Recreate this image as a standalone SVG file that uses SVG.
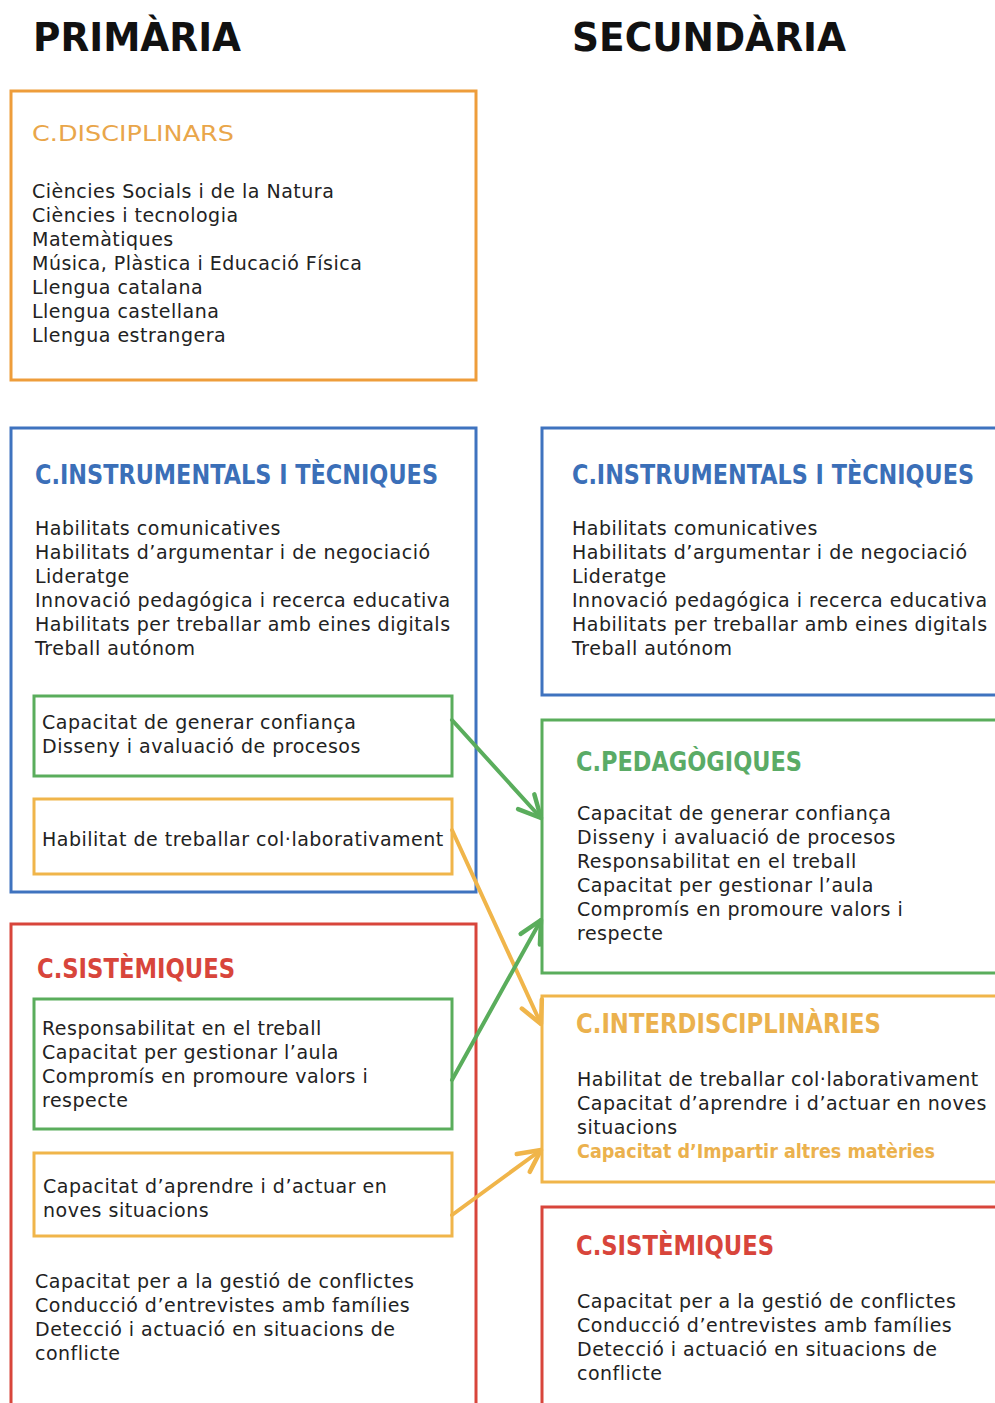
<svg xmlns="http://www.w3.org/2000/svg" width="995" height="1403" viewBox="0 0 995 1403">
<defs>
<style>
.hd{font-family:"DejaVu Sans","Liberation Sans",sans-serif;font-weight:bold;font-size:39px;fill:#111}
.t{font-family:"DejaVu Sans","Liberation Sans",sans-serif;font-weight:bold;font-size:26px}
.b{font-family:"DejaVu Sans","Verdana",sans-serif;font-size:19px;letter-spacing:0.5px;fill:#222}
.box{fill:none;stroke-width:3}
.blue{stroke:#3f73bf}
.green{stroke:#5aad5c}
.orange{stroke:#f0b54a}
.dorange{stroke:#ee9d3b}
.red{stroke:#d8453b}
.conn{fill:none;stroke-width:4;stroke-linecap:round}
</style>
<marker id="ag" viewBox="0 0 28 28" markerWidth="28" markerHeight="28" refX="25" refY="14" orient="auto" markerUnits="userSpaceOnUse"><path d="M3,3 L25,14 L3,25" fill="none" stroke="#5aad5c" stroke-width="4.5" stroke-linecap="round" stroke-linejoin="round"/></marker>
<marker id="ao" viewBox="0 0 28 28" markerWidth="28" markerHeight="28" refX="25" refY="14" orient="auto" markerUnits="userSpaceOnUse"><path d="M3,3 L25,14 L3,25" fill="none" stroke="#f0b54a" stroke-width="4.5" stroke-linecap="round" stroke-linejoin="round"/></marker>
</defs>
<rect width="995" height="1403" fill="#fff"/>

<text class="hd" x="33" y="51" textLength="208" lengthAdjust="spacingAndGlyphs">PRIMÀRIA</text>
<text class="hd" x="572" y="51" textLength="274" lengthAdjust="spacingAndGlyphs">SECUNDÀRIA</text>

<g id="p-disciplinars">
<rect class="box dorange" x="11" y="91" width="465" height="289"/>
<text x="32" y="141" font-family="DejaVu Sans,Verdana,sans-serif" font-size="22" fill="#e9a64a" textLength="202" lengthAdjust="spacingAndGlyphs">C.DISCIPLINARS</text>
<text class="b" x="32" y="198">Ciències Socials i de la Natura</text>
<text class="b" x="32" y="222">Ciències i tecnologia</text>
<text class="b" x="32" y="246">Matemàtiques</text>
<text class="b" x="32" y="270">Música, Plàstica i Educació Física</text>
<text class="b" x="32" y="294">Llengua catalana</text>
<text class="b" x="32" y="318">Llengua castellana</text>
<text class="b" x="32" y="342">Llengua estrangera</text>
</g>

<g id="p-instrumentals">
<rect class="box blue" x="11" y="428" width="465" height="464"/>
<text class="t" x="35" y="484" fill="#3b6fb8" textLength="403" lengthAdjust="spacingAndGlyphs">C.INSTRUMENTALS I TÈCNIQUES</text>
<text class="b" x="35" y="535">Habilitats comunicatives</text>
<text class="b" x="35" y="559">Habilitats d’argumentar i de negociació</text>
<text class="b" x="35" y="583">Lideratge</text>
<text class="b" x="35" y="607">Innovació pedagógica i recerca educativa</text>
<text class="b" x="35" y="631">Habilitats per treballar amb eines digitals</text>
<text class="b" x="35" y="655">Treball autónom</text>
</g>
<g id="p-instr-green">
<rect class="box green" x="34" y="696" width="418" height="80"/>
<text class="b" x="42" y="729">Capacitat de generar confiança</text>
<text class="b" x="42" y="753">Disseny i avaluació de procesos</text>
</g>
<g id="p-instr-orange">
<rect class="box orange" x="34" y="799" width="418" height="75"/>
<text class="b" x="42" y="846">Habilitat de treballar col·laborativament</text>
</g>

<g id="p-sistemiques">
<rect class="box red" x="11" y="924" width="465" height="500"/>
<text class="t" x="37" y="978" fill="#d8453b" textLength="198" lengthAdjust="spacingAndGlyphs">C.SISTÈMIQUES</text>
<text class="b" x="35" y="1288">Capacitat per a la gestió de conflictes</text>
<text class="b" x="35" y="1312">Conducció d’entrevistes amb famílies</text>
<text class="b" x="35" y="1336">Detecció i actuació en situacions de</text>
<text class="b" x="35" y="1360">conflicte</text>
</g>
<g id="p-sist-green">
<rect class="box green" x="34" y="999" width="418" height="130"/>
<text class="b" x="42" y="1035">Responsabilitat en el treball</text>
<text class="b" x="42" y="1059">Capacitat per gestionar l’aula</text>
<text class="b" x="42" y="1083">Compromís en promoure valors i</text>
<text class="b" x="42" y="1107">respecte</text>
</g>
<g id="p-sist-orange">
<rect class="box orange" x="34" y="1153" width="418" height="83"/>
<text class="b" x="43" y="1193">Capacitat d’aprendre i d’actuar en</text>
<text class="b" x="43" y="1217">noves situacions</text>
</g>

<g id="s-instrumentals">
<rect class="box blue" x="542" y="428" width="470" height="267"/>
<text class="t" x="572" y="484" fill="#3b6fb8" textLength="402" lengthAdjust="spacingAndGlyphs">C.INSTRUMENTALS I TÈCNIQUES</text>
<text class="b" x="572" y="535">Habilitats comunicatives</text>
<text class="b" x="572" y="559">Habilitats d’argumentar i de negociació</text>
<text class="b" x="572" y="583">Lideratge</text>
<text class="b" x="572" y="607">Innovació pedagógica i recerca educativa</text>
<text class="b" x="572" y="631">Habilitats per treballar amb eines digitals</text>
<text class="b" x="572" y="655">Treball autónom</text>
</g>

<g id="s-pedagogiques">
<rect class="box green" x="542" y="720" width="470" height="253"/>
<text class="t" x="576" y="771" fill="#5aab66" textLength="226" lengthAdjust="spacingAndGlyphs">C.PEDAGÒGIQUES</text>
<text class="b" x="577" y="820">Capacitat de generar confiança</text>
<text class="b" x="577" y="844">Disseny i avaluació de procesos</text>
<text class="b" x="577" y="868">Responsabilitat en el treball</text>
<text class="b" x="577" y="892">Capacitat per gestionar l’aula</text>
<text class="b" x="577" y="916">Compromís en promoure valors i</text>
<text class="b" x="577" y="940">respecte</text>
</g>

<g id="s-interdisciplinaries">
<rect class="box orange" x="542" y="996" width="470" height="186"/>
<text class="t" x="576" y="1033" fill="#ebb14d" textLength="305" lengthAdjust="spacingAndGlyphs">C.INTERDISCIPLINÀRIES</text>
<text class="b" x="577" y="1086">Habilitat de treballar col·laborativament</text>
<text class="b" x="577" y="1110">Capacitat d’aprendre i d’actuar en noves</text>
<text class="b" x="577" y="1134">situacions</text>
<text class="t" x="577" y="1158" fill="#ebb14d" style="font-size:19px" textLength="358" lengthAdjust="spacingAndGlyphs">Capacitat d’Impartir altres matèries</text>
</g>

<g id="s-sistemiques">
<rect class="box red" x="542" y="1207" width="470" height="220"/>
<text class="t" x="576" y="1255" fill="#d8453b" textLength="198" lengthAdjust="spacingAndGlyphs">C.SISTÈMIQUES</text>
<text class="b" x="577" y="1308">Capacitat per a la gestió de conflictes</text>
<text class="b" x="577" y="1332">Conducció d’entrevistes amb famílies</text>
<text class="b" x="577" y="1356">Detecció i actuació en situacions de</text>
<text class="b" x="577" y="1380">conflicte</text>
</g>

<g id="connectors">
<line class="conn" x1="452" y1="720" x2="541" y2="818" stroke="#5aad5c" marker-end="url(#ag)"/>
<line class="conn" x1="452" y1="830" x2="541" y2="1024" stroke="#f0b54a" marker-end="url(#ao)"/>
<line class="conn" x1="452" y1="1080" x2="541" y2="920" stroke="#5aad5c" marker-end="url(#ag)"/>
<line class="conn" x1="452" y1="1215" x2="541" y2="1150" stroke="#f0b54a" marker-end="url(#ao)"/>
</g>
</svg>
